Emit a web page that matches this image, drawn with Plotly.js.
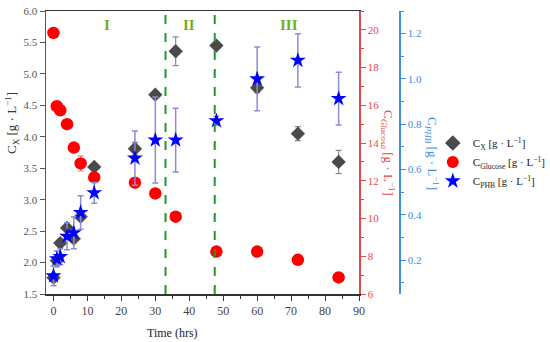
<!DOCTYPE html>
<html>
<head>
<meta charset="utf-8">
<script src="https://cdn.plot.ly/plotly-3.0.1.min.js"></script>
<style>html,body{margin:0;padding:0;background:#fff;}#chart{width:550px;height:342px;}</style>
</head>
<body>
<div id="chart"></div>
<script>
// ---- data ----
const timeHrs = [0, 1, 2, 4, 6, 8, 12, 24, 30, 36, 48, 60, 72, 84];
const cx = [1.76, 2.03, 2.31, 2.55, 2.38, 2.73, 3.52, 3.81, 4.67, 5.36, 5.45, 4.78, 4.05, 3.60];
const cxErr = [0.05, 0.05, 0.04, 0.05, 0.05, 0.06, 0.05, 0.10, 0.05, 0.23, 0.05, 0.08, 0.11, 0.185];
const glucose = [19.84, 15.95, 15.74, 15.0, 13.76, 12.92, 12.18, 11.9, 11.33, 10.1, 8.25, 8.25, 7.81, 6.88];
const glucoseErr = [0, 0, 0, 0, 0, 0.4, 0, 0, 0, 0, 0, 0, 0, 0];
const phb = [0.13, 0.205, 0.215, 0.305, 0.32, 0.41, 0.497, 0.65, 0.73, 0.73, 0.815, 1.0, 1.082, 0.913];
const phbErr = [0.044, 0.035, 0.035, 0.06, 0.07, 0.074, 0.046, 0.12, 0.19, 0.141, 0.02, 0.141, 0.118, 0.116];
const phaseBounds = [33, 47.5];
const phaseLabels = ['I', 'II', 'III'];
const phaseLabelX = [15.7, 40, 69.4];

const serif = 'Liberation Serif';
const red = '#e8474a';
const blue = '#3d8ee0';

const traces = [
  {
    x: timeHrs, y: cx, type: 'scatter', mode: 'markers', yaxis: 'y',
    name: 'C<sub>X</sub> [g · L<sup>−1</sup>]',
    marker: {symbol: 'diamond', size: 11, color: '#4a4a4a'},
    error_y: {type: 'data', array: cxErr, visible: true, color: '#8a8a8a', thickness: 1.2, width: 3}
  },
  {
    x: timeHrs, y: glucose, type: 'scatter', mode: 'markers', yaxis: 'y2',
    name: 'C<sub>Glucose</sub> [g · L<sup>−1</sup>]',
    marker: {symbol: 'circle', size: 12.5, color: '#ff0000'},
    error_y: {type: 'data', array: glucoseErr, visible: true, color: '#e88080', thickness: 1.2, width: 3}
  },
  {
    x: timeHrs, y: phb, type: 'scatter', mode: 'markers', yaxis: 'y3',
    name: 'C<sub>PHB</sub> [g · L<sup>−1</sup>]',
    marker: {symbol: 'star', size: 12, color: '#0000ff'},
    error_y: {type: 'data', array: phbErr, visible: true, color: '#8c8cd8', thickness: 1.5, width: 3}
  }
];

const shapes = phaseBounds.map(b => ({
  type: 'line', xref: 'x', yref: 'paper', x0: b, x1: b, y0: 0, y1: 1,
  line: {color: '#1e9a2a', width: 2, dash: 'dash'}
}));

const annotations = phaseLabels.map((t, i) => ({
  text: '<b>' + t + '</b>', x: phaseLabelX[i], y: 5.78, xref: 'x', yref: 'y',
  xanchor: 'center', yanchor: 'middle',
  showarrow: false, font: {family: serif, size: 15, color: '#6fae1c'}
}));
annotations.push(
  {text: 'Time (hrs)', xref: 'paper', yref: 'paper', x: (172 - 46) / 494, y: -(333 - 294) / 283,
   xanchor: 'center', yanchor: 'middle',
   showarrow: false, font: {family: serif, size: 12, color: '#222'}},
  {text: 'C<sub>X</sub> [g · L<sup>−1</sup>]', xref: 'paper', yref: 'paper', x: (12 - 46) / 494, y: 1 - (123 - 11) / 283,
   xanchor: 'center', yanchor: 'middle',
   textangle: -90, showarrow: false, font: {family: serif, size: 13, color: '#333'}},
  {text: 'C<sub><i>Glucosa</i></sub> [g · L<sup>−1</sup>]', xref: 'paper', yref: 'paper', x: (388 - 46) / 494, y: 1 - (153 - 11) / 283,
   xanchor: 'center', yanchor: 'middle',
   textangle: 90, showarrow: false, font: {family: serif, size: 13, color: red}},
  {text: 'C<sub><i>PHB</i></sub> [g · L<sup>−1</sup>]', xref: 'paper', yref: 'paper', x: (432 - 46) / 494, y: 1 - (153 - 11) / 283,
   xanchor: 'center', yanchor: 'middle',
   textangle: 90, showarrow: false, font: {family: serif, size: 13, color: blue}}
);

const layout = {
  width: 550, height: 342,
  margin: {l: 46, r: 10, t: 11, b: 48, autoexpand: false},
  paper_bgcolor: '#fff', plot_bgcolor: '#fff',
  font: {family: serif},
  showlegend: true,
  legend: {x: 0.783, y: 0.585, xanchor: 'left', yanchor: 'top', bgcolor: 'rgba(0,0,0,0)',
           font: {family: serif, size: 11, color: '#222'}, itemsizing: 'constant', tracegroupgap: 0},
  xaxis: {
    domain: [0, (359 - 46) / 494], range: [-2.2, 90], dtick: 10, tick0: 0,
    showgrid: false, zeroline: false, showline: true, linecolor: '#333', linewidth: 1.5, mirror: true,
    ticks: 'outside', ticklen: 5, tickcolor: '#333',
    minor: {dtick: 5, ticklen: 3, tickcolor: '#333', ticks: 'outside', showgrid: false},
    tickfont: {family: serif, size: 12, color: '#444'}
  },
  yaxis: {
    range: [1.5, 6.0], dtick: 0.5, tick0: 0, tickformat: '.1f',
    showgrid: false, zeroline: false, showline: true, linecolor: '#555', linewidth: 1.5,
    ticks: 'outside', ticklen: 5, tickcolor: '#555',
    tickfont: {family: serif, size: 11, color: '#555'}
  },
  yaxis2: {
    overlaying: 'y', side: 'right', anchor: 'x', range: [6, 21], dtick: 2, tick0: 0,
    showgrid: false, zeroline: false, showline: true, linecolor: red, linewidth: 1.5,
    ticks: 'outside', ticklen: 5, tickcolor: red,
    minor: {dtick: 1, ticklen: 3, tickcolor: red, ticks: 'outside', showgrid: false},
    tickfont: {family: serif, size: 11, color: red}
  },
  yaxis3: {
    overlaying: 'y', side: 'right', anchor: 'free', position: (399 - 46) / 494, range: [0.05, 1.3],
    dtick: 0.2, tick0: 0, tickformat: '.1f',
    showgrid: false, zeroline: false, showline: true, linecolor: blue, linewidth: 1.5,
    ticks: 'outside', ticklen: 5, tickcolor: blue,
    minor: {dtick: 0.1, ticklen: 3, tickcolor: blue, ticks: 'outside', showgrid: false},
    tickfont: {family: serif, size: 11, color: blue}
  },
  shapes: shapes,
  annotations: annotations
};

Plotly.newPlot('chart', traces, layout, {staticPlot: true, displayModeBar: false});
</script>
</body>
</html>
